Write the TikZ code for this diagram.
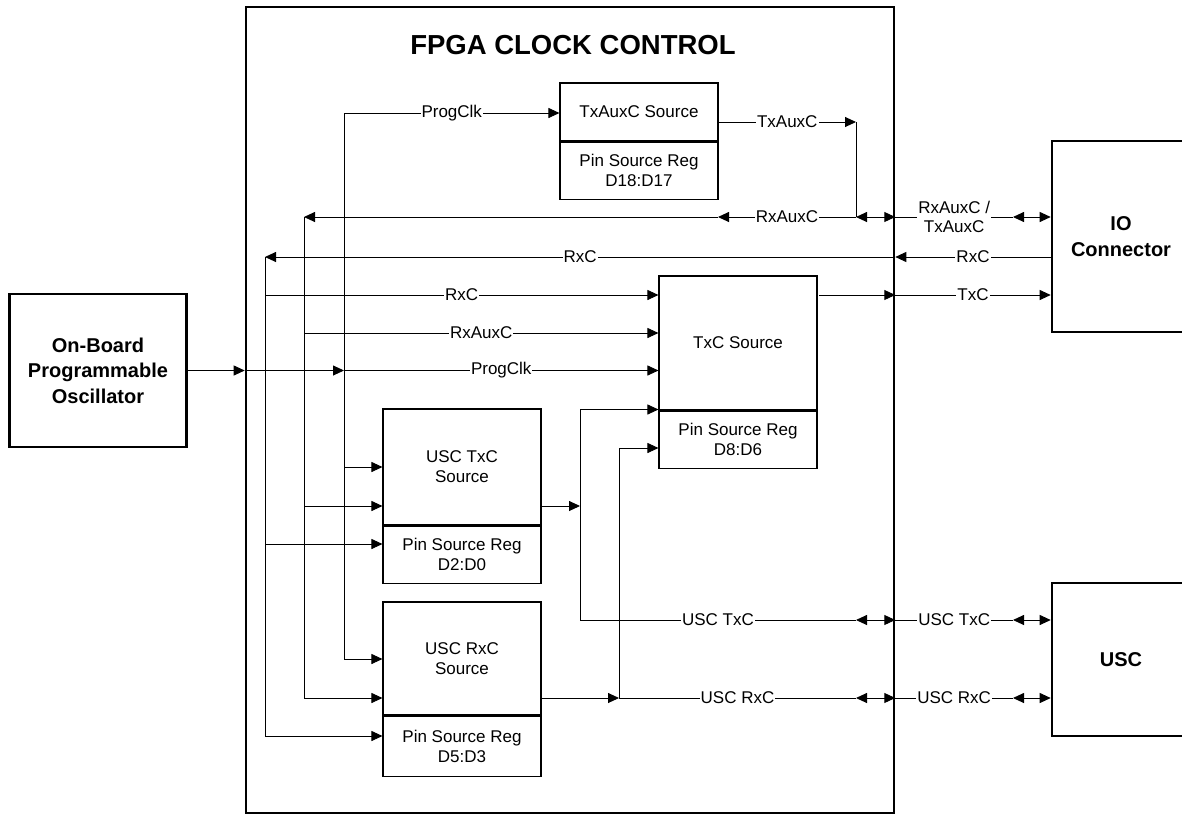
\documentclass[tikz,border=0pt]{standalone}
\usepackage{fontspec}
\setmainfont{Liberation Sans}
\usetikzlibrary{arrows.meta,calc}
\begin{document}
\begin{tikzpicture}[x=1pt,y=-1pt,
  ln/.style={line width=0.9pt},
  arr/.style={ln,-{Triangle[length=11pt,width=10pt]}},
  darr/.style={ln,{Triangle[length=11pt,width=10pt]}-{Triangle[length=11pt,width=10pt]}},
  lbl/.style={fill=white,inner sep=1pt,align=center,font=\fontsize{17}{19}\selectfont},
  blk/.style={draw,line width=1.1pt,inner sep=0pt,align=center,font=\fontsize{17}{20}\selectfont},
  big/.style={draw,line width=2.6pt,inner sep=0pt,align=center,font=\bfseries\fontsize{20}{25.5}\selectfont}
]
\useasboundingbox (0,0) rectangle (1182,814);

% FPGA frame and title
\node[draw,line width=2.6pt,minimum width=648,minimum height=806,inner sep=0pt] (fpga) at (570,410) {};
\node[font=\bfseries\fontsize{27.5}{30}\selectfont] (title) at (573,45) {FPGA CLOCK CONTROL};

% outer blocks
\node[big,minimum width=177,minimum height=153] (osc) at (98,370.5) {On-Board\\Programmable\\Oscillator};
\node[big,minimum width=138,minimum height=191] (io) at (1121,236.5) {IO\\Connector};
\node[big,minimum width=138,minimum height=153] (usc) at (1121,659.5) {USC};

% inner blocks
\node[blk,minimum width=158,minimum height=58] (taU) at (639,112) {TxAuxC Source};
\node[blk,minimum width=158,minimum height=57,anchor=north] (taL) at (taU.south) {Pin Source Reg\\D18:D17};
\node[blk,minimum width=158,minimum height=134] (txU) at (738,343) {TxC Source};
\node[blk,minimum width=158,minimum height=57,anchor=north] (txL) at (txU.south) {Pin Source Reg\\D8:D6};
\node[blk,minimum width=158,minimum height=116] (utU) at (462,467) {USC TxC\\Source};
\node[blk,minimum width=158,minimum height=57,anchor=north] (utL) at (utU.south) {Pin Source Reg\\D2:D0};
\node[blk,minimum width=158,minimum height=113] (urU) at (462,658.5) {USC RxC\\Source};
\node[blk,minimum width=158,minimum height=60,anchor=north] (urL) at (urU.south) {Pin Source Reg\\D5:D3};

% bus coordinates
\coordinate (rbT) at (265,257);
\coordinate (rbB) at (265,736);
\coordinate (abT) at (304,217);
\coordinate (abB) at (304,698);
\coordinate (pbT) at (344,113);
\coordinate (pbB) at (344,659);
\coordinate (xin) at (856,0);
\coordinate (xout) at (1013,0);
\coordinate (xaux) at (718,0);

% oscillator feed
\coordinate (oF) at (osc.east -| fpga.west);
\coordinate (oP) at (osc.east -| pbT);
\draw[arr] (osc.east) -- (oF);
\draw[arr] (oF) -- (oP);
\draw[arr] (oP) -- node[lbl]{ProgClk} (oP -| txU.west);

% buses
\draw[ln] (pbT) -- (pbB);
\draw[ln] (abT) -- (abB);
\draw[ln] (rbT) -- (rbB);

% ProgClk bus outputs
\draw[arr] (pbT) -- node[lbl]{ProgClk} (pbT -| taU.west);
\draw[arr] (pbB |- utU.west) -- (utU.west);
\draw[arr] (pbB) -- (pbB -| urU.west);

% RxAuxC bus outputs
\coordinate (a333) at (304,333);
\coordinate (a506) at (304,506);
\draw[arr] (a333) -- node[lbl]{RxAuxC} (a333 -| txU.west);
\draw[arr] (a506) -- (a506 -| utU.west);
\draw[arr] (abB) -- (abB -| urU.west);

% RxC bus outputs
\coordinate (r295) at (265,295);
\coordinate (r544) at (265,544);
\draw[arr] (r295) -- node[lbl]{RxC} (r295 -| txU.west);
\draw[arr] (r544) -- (r544 -| utU.west);
\draw[arr] (rbB) -- (rbB -| urU.west);

% TxAuxC / RxAuxC
\coordinate (t122) at (856,122);
\coordinate (jA) at (xin |- abT);
\draw[arr] (taU.east |- t122) -- node[lbl]{TxAuxC} (t122);
\draw[ln] (t122) -- (jA);
\draw[darr] (jA) -- (fpga.east |- abT);
\draw[arr] (jA) -- node[lbl]{RxAuxC} (xaux |- abT);
\draw[arr] (xaux |- abT) -- (abT);
\draw[ln] (fpga.east |- abT) -- node[lbl]{RxAuxC /\\TxAuxC} (xout |- abT);
\draw[darr] (xout |- abT) -- (io.west |- abT);

% RxC from IO
\draw[arr] (io.west |- rbT) -- node[lbl]{RxC} (fpga.east |- rbT);
\draw[arr] (fpga.east |- rbT) -- node[lbl]{RxC} (rbT);

% TxC to IO
\draw[arr] ([xshift=1.5pt]txU.east |- r295) -- (fpga.east |- r295);
\draw[arr] (fpga.east |- r295) -- node[lbl]{TxC} (io.west |- r295);

% USC TxC
\coordinate (t506) at (580,506);
\coordinate (t409) at (580,409.5);
\coordinate (t620) at (580,620);
\draw[arr] (utU.east |- t506) -- (t506);
\draw[ln] (t409) -- (t620);
\draw[arr] (t409) -- (t409 -| txU.west);
\draw[ln] (t620) -- node[lbl]{USC TxC} (xin |- t620);
\draw[darr] (xin |- t620) -- (fpga.east |- t620);
\draw[ln] (fpga.east |- t620) -- node[lbl]{USC TxC} (xout |- t620);
\draw[darr] (xout |- t620) -- (usc.west |- t620);

% USC RxC
\coordinate (u698) at (619,698);
\coordinate (u448) at (619,448);
\draw[arr] (urU.east |- u698) -- (u698);
\draw[ln] (u698) -- (u448);
\draw[arr] (u448) -- (u448 -| txU.west);
\draw[ln] (u698) -- node[lbl]{USC RxC} (xin |- u698);
\draw[darr] (xin |- u698) -- (fpga.east |- u698);
\draw[ln] (fpga.east |- u698) -- node[lbl]{USC RxC} (xout |- u698);
\draw[darr] (xout |- u698) -- (usc.west |- u698);
\end{tikzpicture}
\end{document}
